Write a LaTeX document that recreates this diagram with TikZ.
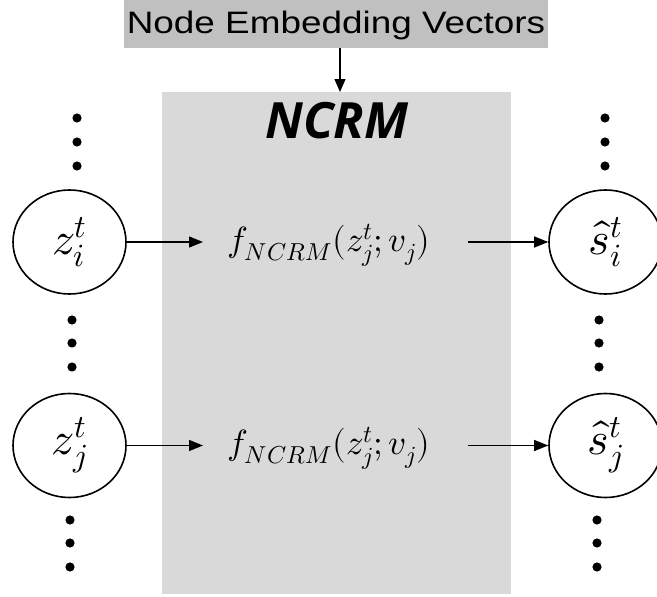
\documentclass[tikz,border=0pt]{standalone}
\usepackage{fontspec}
\usepackage{unicode-math}
\setmainfont{Liberation Sans}
\newfontfamily\ncrmfont{Open Sans}
\usetikzlibrary{arrows.meta,shapes.geometric}
\definecolor{boxgray}{HTML}{D9D9D9}
\definecolor{labgray}{HTML}{C0C0C0}
\begin{document}
\begin{tikzpicture}[x=1pt,y=-1pt,
  state/.style={draw=black,line width=1.6pt,ellipse,minimum width=113pt,minimum height=104pt,inner sep=0pt,font=\fontsize{46}{50}\selectfont},
  func/.style={inner sep=0pt,font=\fontsize{35}{40}\selectfont},
  conn/.style={line width=1.3pt,-{Triangle[length=14pt,width=11pt]}},
  vdot/.style={fill=black}]
\useasboundingbox (0,0) rectangle (657,597);
% NCRM box
\node[fill=boxgray,minimum width=349pt,minimum height=502pt,inner sep=0pt,anchor=north west] (ncrm) at (162,92) {};
\node[font=\ncrmfont\bfseries\itshape\fontsize{50}{56}\selectfont,anchor=center] (title) at (337,121) {NCRM};
% embedding label
\node[fill=labgray,minimum width=424pt,minimum height=50pt,inner sep=0pt,anchor=north west] (emb) at (124,-2) {};
\node[font=\fontsize{31}{36}\selectfont] (embt) at (336,25) {\scalebox{1.19}[1]{Node Embedding Vectors}};
\draw[line width=1.3pt,-{Triangle[length=13pt,width=11pt]}] (emb.south -| 340,0) -- (ncrm.north -| 340,0);
% states
\node[state] (zi) at (69.5,242) {$z_i^t$};
\node[state] (zj) at (69.5,445.5) {$z_j^t$};
\node[state] (si) at (605.5,242) {$\hat{s}_i^t$};
\node[state] (sj) at (605.5,445.5) {$\hat{s}_j^t$};
% functions
\node[func] (fi) at (329,245) {$f_{NCRM}(z_j^t;v_j)$};
\node[func] (fj) at (329,448) {$f_{NCRM}(z_j^t;v_j)$};
% connectors
\draw[conn] (zi.east) -- (203,242);
\draw[conn] (zj.east) -- (203,445.5);
\draw[conn] (468,242) -- (si.west);
\draw[conn] (468,445.5) -- (sj.west);
% dots
\foreach \x/\y in {77/118,77/142,77/166, 72/320,72/343,72/367, 70/520,70/543,70/567,
                   605/118,605/142,605/166, 599/320,599/343,599/367, 597/520,597/543,597/567}
  \fill[vdot] (\x,\y) circle (4.6pt);
\end{tikzpicture}
\end{document}
